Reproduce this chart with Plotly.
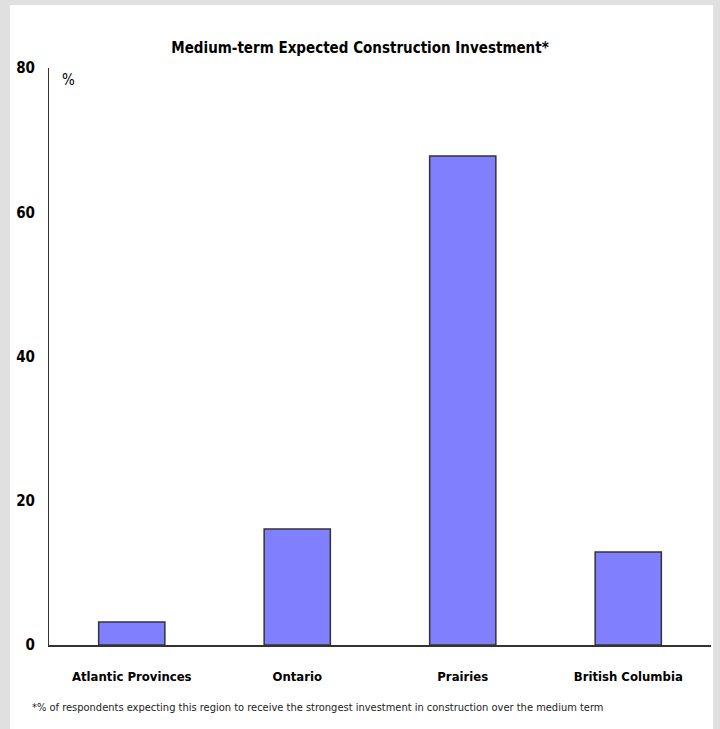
import plotly.graph_objects as go

regions = ["Atlantic Provinces", "Ontario", "Prairies", "British Columbia"]
share_pct = [3.2, 16.1, 67.8, 12.9]
y_ticks = [0, 20, 40, 60, 80]

FONT = "DejaVu Sans Condensed, Liberation Sans Narrow, Arial Narrow, sans-serif"

fig = go.Figure(
    go.Bar(
        x=list(range(len(regions))),
        y=share_pct,
        width=0.4,
        marker=dict(color="#8080FF", line=dict(color="#333333", width=1.5)),
        customdata=regions,
        hovertemplate="%{customdata}: %{y}%<extra></extra>",
    )
)

fig.update_layout(
    width=720,
    height=729,
    margin=dict(l=49, r=9, t=68, b=84),
    paper_bgcolor="#e0e0e0",
    plot_bgcolor="rgba(0,0,0,0)",
    showlegend=False,
    font=dict(family=FONT, color="#000000"),
    title=dict(
        text="<b>Medium-term Expected Construction Investment*</b>",
        x=0.5, xanchor="center", y=1 - 48 / 729, yanchor="middle",
        font=dict(size=15, family=FONT),
    ),
    shapes=[
        dict(
            type="rect", xref="paper", yref="paper", layer="below",
            x0=-0.059, x1=1.003, y0=-0.2, y1=1.109,
            fillcolor="#ffffff", line=dict(width=0),
        )
    ],
    annotations=[
        dict(
            text="%", xref="paper", yref="paper", x=0.017, y=0.979,
            xanchor="left", yanchor="middle", showarrow=False,
            font=dict(size=15, family=FONT),
        ),
        dict(
            text="*% of respondents expecting this region to receive the strongest investment in construction over the medium term",
            xref="paper", yref="paper", x=-0.029, y=-0.109,
            xanchor="left", yanchor="middle", showarrow=False,
            font=dict(size=11, family=FONT, color="#222222"),
        ),
    ],
)

fig.update_yaxes(
    range=[0, 80],
    tickvals=y_ticks,
    ticktext=[f"<b>{v}</b>" for v in y_ticks],
    showgrid=False,
    zeroline=False,
    showline=True,
    linecolor="#333333",
    linewidth=1,
    ticks="",
    ticklabelstandoff=10,
    tickfont=dict(size=15, family=FONT),
)

fig.update_xaxes(
    range=[-0.5, 3.5],
    tickvals=list(range(len(regions))),
    ticktext=[f"<b>{r}</b>" for r in regions],
    showgrid=False,
    showline=True,
    linecolor="#333333",
    linewidth=1.5,
    ticks="",
    ticklabelstandoff=19,
    tickfont=dict(size=13, family=FONT),
)

fig.write_html("out.html")
